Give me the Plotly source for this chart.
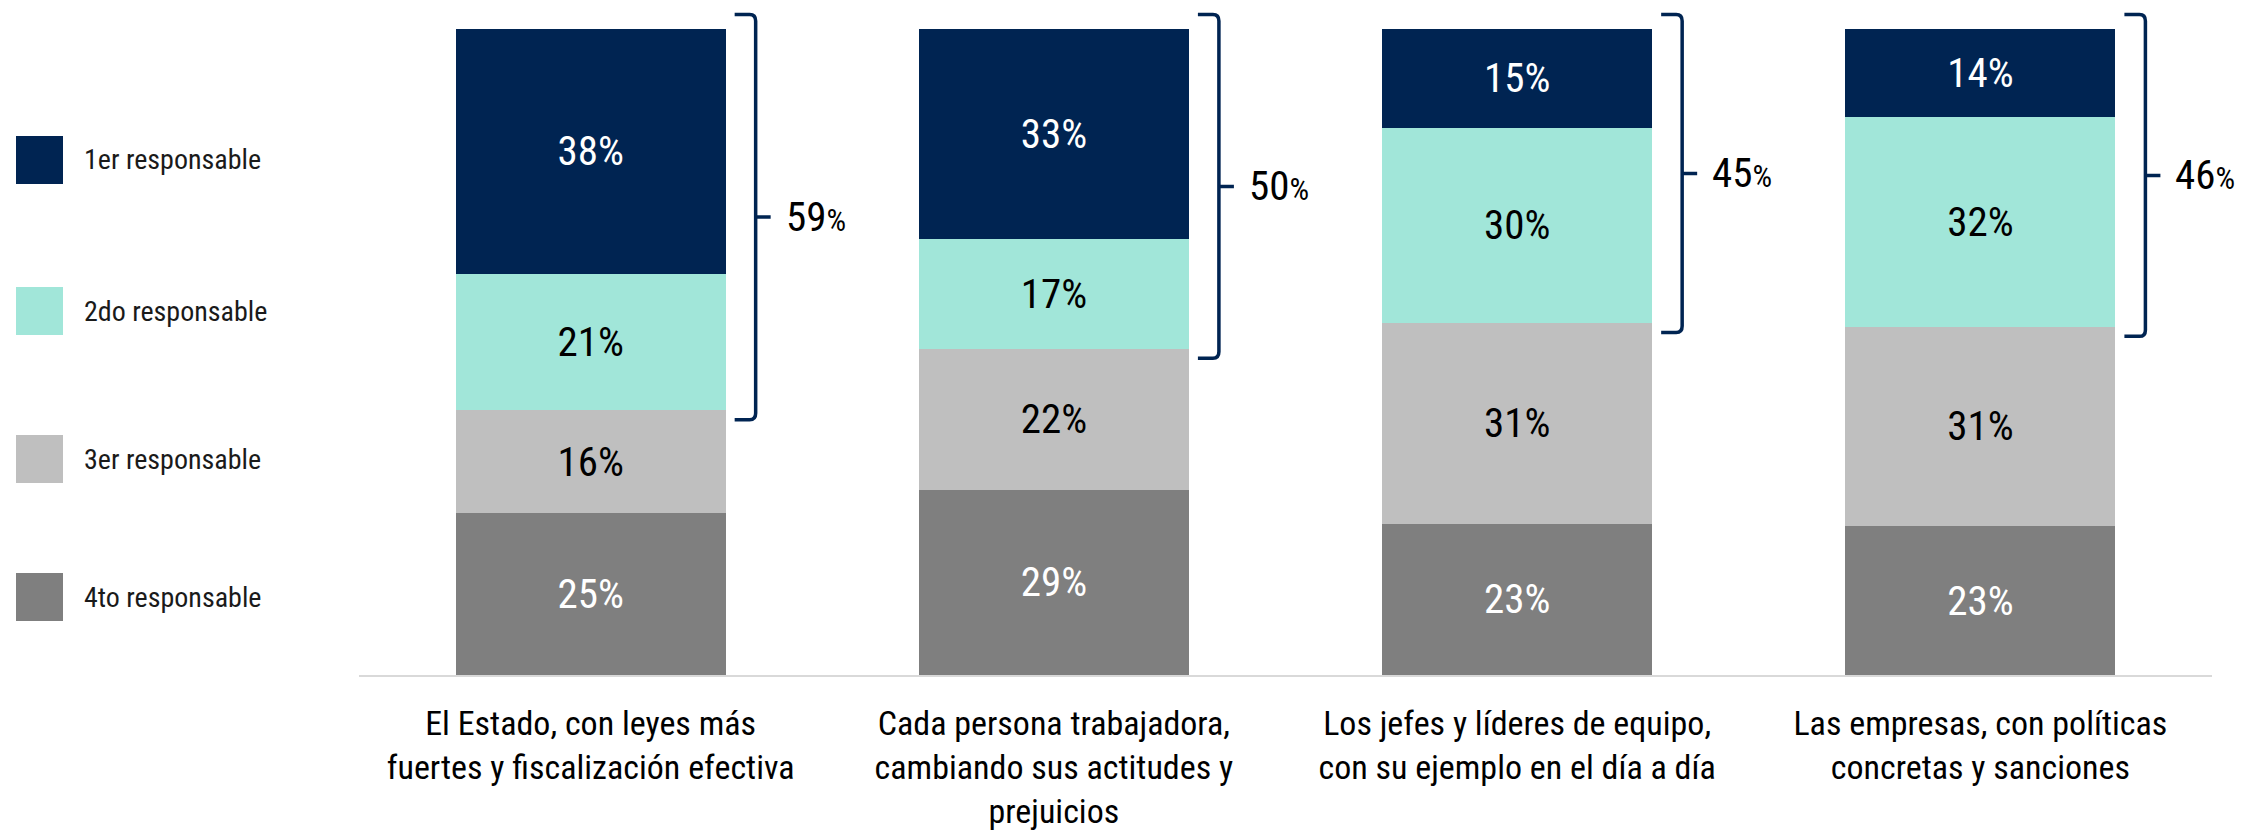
import plotly.graph_objects as go

categorias = [
    "El Estado, con leyes más<br>fuertes y fiscalización efectiva",
    "Cada persona trabajadora,<br>cambiando sus actitudes y<br>prejuicios",
    "Los jefes y líderes de equipo,<br>con su ejemplo en el día a día",
    "Las empresas, con políticas<br>concretas y sanciones",
]
series = ["1er responsable", "2do responsable", "3er responsable", "4to responsable"]
primero = [38.0, 32.6, 15.3, 13.7]
segundo = [21.0, 16.9, 30.2, 32.4]
tercero = [16.0, 21.8, 31.1, 30.9]
cuarto = [25.0, 28.7, 23.4, 23.0]
top2 = [59, 50, 45, 46]

colores = ["#002452", "#A1E6D9", "#BFBFBF", "#7F7F7F"]
color_texto = ["white", "black", "black", "white"]
FONT = "Roboto Condensed, Liberation Sans Narrow, Roboto, sans-serif"

x = list(range(len(categorias)))
valores = [primero, segundo, tercero, cuarto]
bargap = 0.417
half = (1 - bargap) / 2

# la página añade 8px de margen al cuerpo
OFF = 8
FIG_W, FIG_H = 2244 - OFF, 833 - OFF
W, L, B = 1853, 359 - OFF, 675 - OFF
H = B  # t = 0
escala = 6.463  # px por punto porcentual

fig = go.Figure()

# apilado de abajo hacia arriba: 4to, 3er, 2do, 1er
for k in [3, 2, 1, 0]:
    fig.add_trace(go.Bar(
        x=x,
        y=valores[k],
        name=series[k],
        marker_color=colores[k],
        marker_line_width=0,
        texttemplate="%{y:.0f}%",
        textposition="inside",
        insidetextanchor="middle",
        textangle=0,
        textfont=dict(family=FONT, size=41, color=color_texto[k]),
        showlegend=False,
    ))

# llaves con el total 1er + 2do
for i in x:
    top = 102.2
    bottom = cuarto[i] + tercero[i] - 1.5
    mid = (top + bottom) / 2
    path = (f"M 9,{top} L 24,{top} Q 30,{top} 30,{top - 1} "
            f"L 30,{bottom + 1} Q 30,{bottom} 24,{bottom} L 9,{bottom} "
            f"M 30,{mid} L 45,{mid}")
    fig.add_shape(
        type="path", path=path,
        xref="x", yref="y", xsizemode="pixel", xanchor=i + half,
        line=dict(color="#002452", width=3.5),
    )
    fig.add_annotation(
        x=i + half, y=mid, xref="x", yref="y",
        text=f"{top2[i]}<span style='font-size:31px'>%</span>",
        showarrow=False, xanchor="left", yanchor="middle", xshift=58,
        font=dict(family=FONT, size=41, color="black"),
    )

# leyenda manual a la izquierda
centros = [160, 311, 459, 597]
for k, cy in enumerate(centros):
    cy = cy - OFF
    fig.add_shape(
        type="rect", xref="paper", yref="paper",
        x0=(16 - OFF - L) / W, x1=(63 - OFF - L) / W,
        y0=(B - (cy + 24)) / H, y1=(B - (cy - 24)) / H,
        fillcolor=colores[k], line_width=0,
    )
    fig.add_annotation(
        x=(82 - OFF - L) / W, y=(B - cy) / H, xref="paper", yref="paper",
        text=series[k], showarrow=False, xanchor="left", yanchor="middle",
        font=dict(family=FONT, size=28, color="#1a1a1a"),
    )

fig.update_layout(
    barmode="stack",
    bargap=bargap,
    width=FIG_W,
    height=FIG_H,
    plot_bgcolor="white",
    paper_bgcolor="white",
    margin=dict(l=L, r=FIG_W - L - W, t=0, b=FIG_H - B),
    xaxis=dict(
        range=[-0.5, 3.5],
        tickvals=x,
        ticktext=categorias,
        showline=True,
        linecolor="#d9d9d9",
        linewidth=2,
        showgrid=False,
        zeroline=False,
        ticks="",
        automargin=False,
        ticklabelstandoff=17,
        tickfont=dict(family=FONT, size=34, color="black"),
    ),
    yaxis=dict(
        range=[0, H / escala],
        visible=False,
        showgrid=False,
        zeroline=False,
        automargin=False,
    ),
    showlegend=False,
)

fig.write_html("out.html")
